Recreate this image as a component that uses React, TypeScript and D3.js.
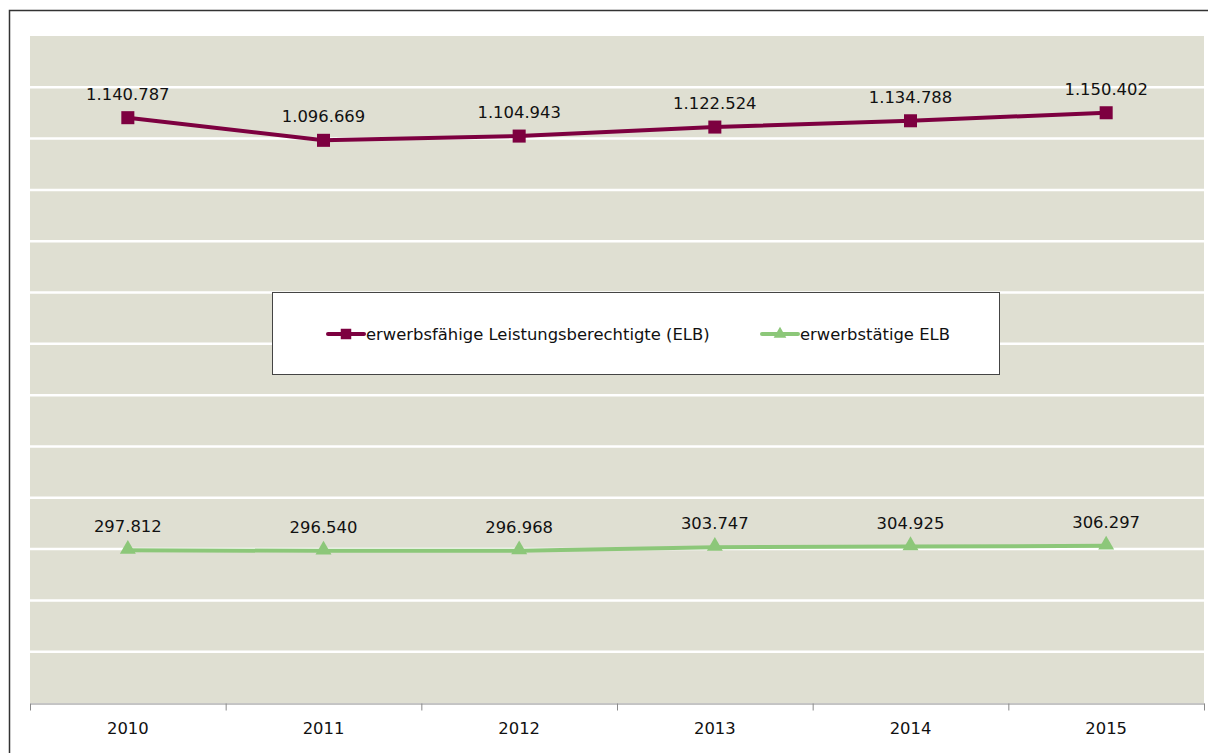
import React, { useEffect, useRef } from "react";
import * as d3 from "d3";

// years on the x axis
const years = ["2010", "2011", "2012", "2013", "2014", "2015"];
// erwerbsfähige Leistungsberechtigte (ELB)
const elbValues = [1140787, 1096669, 1104943, 1122524, 1134788, 1150402];
// erwerbstätige ELB
const erwerbstaetigValues = [297812, 296540, 296968, 303747, 304925, 306297];
const gridValues = [100000, 200000, 300000, 400000, 500000, 600000, 700000, 800000, 900000, 1000000, 1100000, 1200000];
const seriesNames = ["erwerbsfähige Leistungsberechtigte (ELB)", "erwerbstätige ELB"];

const W = 1208, H = 753;
const left = 30, right = 1204, top = 36, bottom = 703;
const FONT = "'DejaVu Sans', Verdana, sans-serif";
const FS = 16.4;
const MAROON = "#7d0040";
const GREEN = "#8cc779";

const fmt = (v: number) => d3.format(",")(v).replace(/,/g, ".");

export default function App() {
  const ref = useRef<SVGSVGElement>(null);

  useEffect(() => {
    const svg = d3.select(ref.current);
    svg.selectAll("*").remove();

    // outer frame
    svg.append("rect")
      .attr("x", 9.5).attr("y", 10.5)
      .attr("width", W).attr("height", H)
      .attr("fill", "#fff").attr("stroke", "#333").attr("stroke-width", 1.5);

    const x = d3.scaleBand().domain(years).range([left, right]).padding(0);
    const xb = d3.scaleLinear().domain([0, years.length]).range([left, right]);
    const y = d3.scaleLinear().domain([0, 1300000]).range([bottom, top]);

    svg.append("rect")
      .attr("x", left).attr("y", top)
      .attr("width", right - left).attr("height", bottom - top)
      .attr("fill", "#dfdfd2");

    svg.append("g").selectAll("line").data(gridValues).enter().append("line")
      .attr("x1", left).attr("x2", right)
      .attr("y1", (d) => y(d)).attr("y2", (d) => y(d))
      .attr("stroke", "#fff").attr("stroke-width", 2.5);

    // axis line with ticks at category boundaries
    const ax = svg.append("g").attr("transform", `translate(0,${bottom + 0.5})`)
      .call(d3.axisBottom(xb).tickValues(d3.range(years.length + 1)).tickFormat(() => "").tickSize(7).tickSizeOuter(0));
    ax.select(".domain").attr("stroke", "#8a8a8a");
    ax.selectAll(".tick line").attr("stroke", "#8a8a8a");

    const lab = svg.append("g").attr("transform", `translate(0,${bottom})`)
      .call(d3.axisBottom(x).tickSize(0).tickPadding(19));
    lab.select(".domain").remove();
    lab.selectAll("text").attr("font-family", FONT).attr("font-size", FS).attr("fill", "#111");

    const cx = (i: number) => (x(years[i]) as number) + x.bandwidth() / 2;

    const line = d3.line<number>().x((_, i) => cx(i)).y((d) => y(d));

    svg.append("path").datum(elbValues).attr("d", line)
      .attr("fill", "none").attr("stroke", MAROON).attr("stroke-width", 4);
    svg.append("path").datum(erwerbstaetigValues).attr("d", line)
      .attr("fill", "none").attr("stroke", GREEN).attr("stroke-width", 4);

    const sq = d3.symbol().type(d3.symbolSquare).size(170);
    const tri = d3.symbol().type(d3.symbolTriangle).size(110);

    svg.append("g").selectAll("path").data(elbValues).enter().append("path")
      .attr("d", sq)
      .attr("transform", (d, i) => `translate(${cx(i)},${y(d)})`)
      .attr("fill", MAROON);
    svg.append("g").selectAll("path").data(erwerbstaetigValues).enter().append("path")
      .attr("d", tri)
      .attr("transform", (d, i) => `translate(${cx(i)},${y(d) - 1})`)
      .attr("fill", GREEN);

    const labels = (vals: number[]) =>
      svg.append("g").selectAll("text").data(vals).enter().append("text")
        .attr("x", (_, i) => cx(i)).attr("y", (d) => y(d) - 18)
        .attr("text-anchor", "middle")
        .attr("font-family", FONT).attr("font-size", FS).attr("fill", "#111")
        .text((d) => fmt(d));
    labels(elbValues);
    labels(erwerbstaetigValues);

    // legend
    const lg = svg.append("g");
    lg.append("rect").attr("x", 272.5).attr("y", 292.5).attr("width", 727).attr("height", 82)
      .attr("fill", "#fff").attr("stroke", "#444").attr("stroke-width", 1);
    const items = [
      { name: seriesNames[0], color: MAROON, sym: sq, x0: 328 },
      { name: seriesNames[1], color: GREEN, sym: tri, x0: 762 },
    ];
    items.forEach((it, k) => {
      lg.append("line").attr("x1", it.x0).attr("x2", it.x0 + 36).attr("y1", 334).attr("y2", 334)
        .attr("stroke", it.color).attr("stroke-width", 4).attr("stroke-linecap", "round");
      lg.append("path")
        .attr("d", d3.symbol().type(k === 0 ? d3.symbolSquare : d3.symbolTriangle).size(k === 0 ? 110 : 70))
        .attr("transform", `translate(${it.x0 + 18},334)`)
        .attr("fill", it.color);
      lg.append("text").attr("x", it.x0 + 38).attr("y", 340)
        .attr("font-family", FONT).attr("font-size", FS).attr("fill", "#111")
        .text(it.name);
    });
  }, []);

  return (
    <svg ref={ref} width={W} height={H} style={{ position: "absolute", left: 0, top: 0 }} />
  );
}
